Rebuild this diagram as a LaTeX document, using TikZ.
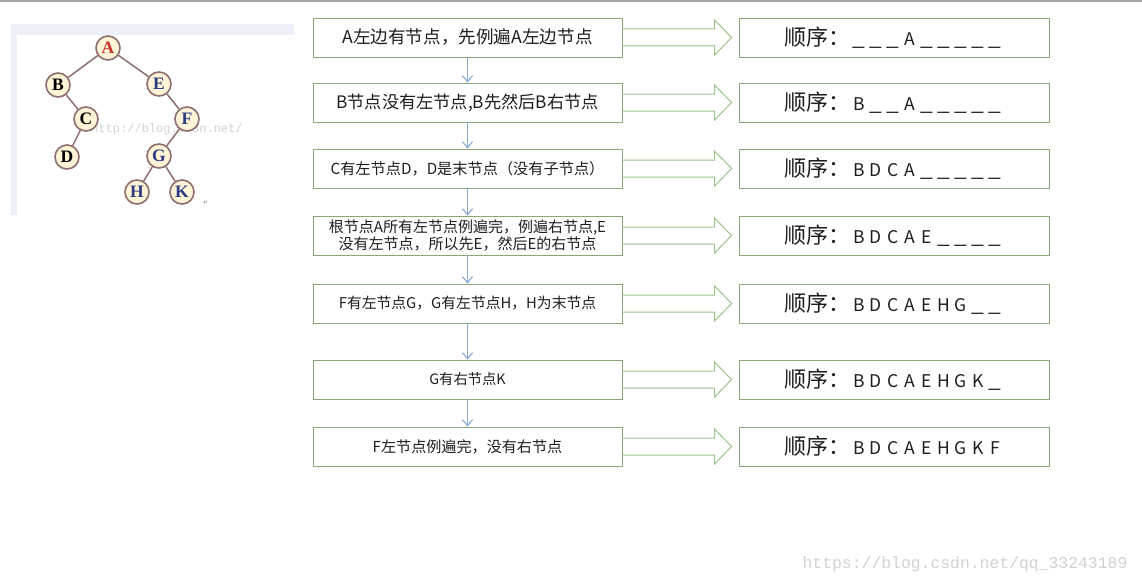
\documentclass[tikz,border=0pt]{standalone}
\usepackage{fontspec}
\usepackage{graphicx}
\setmainfont{Noto Sans CJK SC}
\newfontfamily\treefont{Liberation Serif}
\newfontfamily\wmfont{Liberation Mono}
\newfontfamily\symfont{DejaVu Sans}
\usetikzlibrary{arrows.meta,calc}
\definecolor{boxgreen}{HTML}{8AA876}
\definecolor{arrgreen}{HTML}{9CC48A}
\definecolor{flowblue}{HTML}{86A9D2}
\definecolor{treeedge}{HTML}{8E6E70}
\definecolor{treefill}{HTML}{FFF4D6}
\definecolor{treered}{HTML}{C4372C}
\definecolor{treeblue}{HTML}{2B3A82}
\definecolor{panelbg}{HTML}{EDF1F7}
\definecolor{wmgray}{HTML}{D2D2D2}
\definecolor{txt}{HTML}{1E1E1E}
\newcommand\seqhead{{\fontsize{22}{22}\selectfont 顺序：}}
\newcommand\seqch[1]{\makebox[17pt]{\fontsize{17.5}{17.5}\selectfont #1}}
\newcommand\seqgap{\makebox[17pt]{\fontsize{17.5}{17.5}\selectfont\scalebox{1.3}[1.2]{\_}}}
\tikzset{
  lbox/.style={draw=boxgreen, line width=0.9pt, fill=white, minimum width=309pt, minimum height=39pt, inner sep=0pt, align=center, text=txt},
  rbox/.style={draw=boxgreen, line width=0.9pt, fill=white, minimum width=310pt, minimum height=39pt, inner sep=0pt, text=txt},
  flow/.style={draw=flowblue, line width=1.1pt, -{Straight Barb[length=6pt,width=10pt,line width=1.1pt]}},
  barrow/.style={draw=arrgreen, line width=1pt, line join=miter},
  tnode/.style={circle, draw=treeedge, fill=treefill, line width=1.6pt, minimum size=24pt, inner sep=0pt, font=\treefont\bfseries\fontsize{17.5}{17.5}\selectfont},
  tedge/.style={draw=treeedge, line width=1.5pt},
  fs/.style={font=\fontsize{#1}{17}\selectfont}
}
\begin{document}
\begin{tikzpicture}[x=1pt,y=-1pt]
\useasboundingbox (0,0) rectangle (1142,586);
\fill[white] (0,0) rectangle (1142,586);
\fill[black!35] (0,0) rectangle (1142,2);

% tree panel
\fill[panelbg] (11,24) rectangle (294,215);
\fill[white] (17,35) rectangle (294,215);
\node[font=\wmfont\fontsize{12}{12}\selectfont, text=wmgray] (wm1) at (167,129) {http://blog.csdn.net/};
\node[tnode, text=treered] (tA) at (108,48) {A};
\node[tnode, text=black] (tB) at (58,85) {B};
\node[tnode, text=treeblue] (tE) at (159,84) {E};
\node[tnode, text=black] (tC) at (86,119) {C};
\node[tnode, text=treeblue] (tF) at (187,119) {F};
\node[tnode, text=black] (tD) at (67,157) {D};
\node[tnode, text=treeblue] (tG) at (159,156) {G};
\node[tnode, text=treeblue] (tH) at (137,192) {H};
\node[tnode, text=treeblue] (tK) at (182,192) {K};
\draw[tedge] (tA) -- (tB);
\draw[tedge] (tA) -- (tE);
\draw[tedge] (tB) -- (tC);
\draw[tedge] (tC) -- (tD);
\draw[tedge] (tE) -- (tF);
\draw[tedge] (tF) -- (tG);
\draw[tedge] (tG) -- (tH);
\draw[tedge] (tG) -- (tK);
\node[font=\symfont\fontsize{6}{6}\selectfont, text=black!50] (ret) at (206,203) {↵};

% left boxes
\node[lbox, fs=17.6] (L1) at (467.5,37.5) {A左边有节点，先例遍A左边节点};
\node[lbox, fs=17.2] (L2) at (467.5,102.5) {B节点没有左节点,B先然后B右节点};
\node[lbox, fs=15.2] (L3) at (467.5,168.5) {C有左节点D，D是末节点（没有子节点）};
\node[lbox, fs=15] (L4) at (467.5,235.5) {根节点A所有左节点例遍完，例遍右节点,E\\没有左节点，所以先E，然后E的右节点};
\node[lbox, fs=14.8] (L5) at (467.5,303.5) {F有左节点G，G有左节点H，H为末节点};
\node[lbox, fs=14.3] (L6) at (467.5,379.5) {G有右节点K};
\node[lbox, fs=15.1] (L7) at (467.5,446.5) {F左节点例遍完，没有右节点};

% right boxes
\node[rbox] (R1) at (894,37.5) {\seqhead\seqgap\seqgap\seqgap\seqch{A}\seqgap\seqgap\seqgap\seqgap\seqgap};
\node[rbox] (R2) at (894,102.5) {\seqhead\seqch{B}\seqgap\seqgap\seqch{A}\seqgap\seqgap\seqgap\seqgap\seqgap};
\node[rbox] (R3) at (894,168.5) {\seqhead\seqch{B}\seqch{D}\seqch{C}\seqch{A}\seqgap\seqgap\seqgap\seqgap\seqgap};
\node[rbox] (R4) at (894,235.5) {\seqhead\seqch{B}\seqch{D}\seqch{C}\seqch{A}\seqch{E}\seqgap\seqgap\seqgap\seqgap};
\node[rbox] (R5) at (894,303.5) {\seqhead\seqch{B}\seqch{D}\seqch{C}\seqch{A}\seqch{E}\seqch{H}\seqch{G}\seqgap\seqgap};
\node[rbox] (R6) at (894,379.5) {\seqhead\seqch{B}\seqch{D}\seqch{C}\seqch{A}\seqch{E}\seqch{H}\seqch{G}\seqch{K}\seqgap};
\node[rbox] (R7) at (894,446.5) {\seqhead\seqch{B}\seqch{D}\seqch{C}\seqch{A}\seqch{E}\seqch{H}\seqch{G}\seqch{K}\seqch{F}};

% vertical flow arrows
\draw[flow] (L1) -- (L2);
\draw[flow] (L2) -- (L3);
\draw[flow] (L3) -- (L4);
\draw[flow] (L4) -- (L5);
\draw[flow] (L5) -- (L6);
\draw[flow] (L6) -- (L7);

% block arrows
\foreach \i in {1,...,7}{
  \draw[barrow] ($(L\i.east)+(0,-8.5)$) -- ($(R\i.west)+(-24,-8.5)$) -- ($(R\i.west)+(-24,-17.5)$) -- ($(R\i.west)+(-7,0)$) -- ($(R\i.west)+(-24,17.5)$) -- ($(R\i.west)+(-24,8.5)$) -- ($(L\i.east)+(0,8.5)$);
}

% watermark
\node[font=\wmfont\fontsize{16.4}{16.4}\selectfont, text=wmgray] (wm2) at (965,564) {https://blog.csdn.net/qq\_33243189};
\end{tikzpicture}
\end{document}
